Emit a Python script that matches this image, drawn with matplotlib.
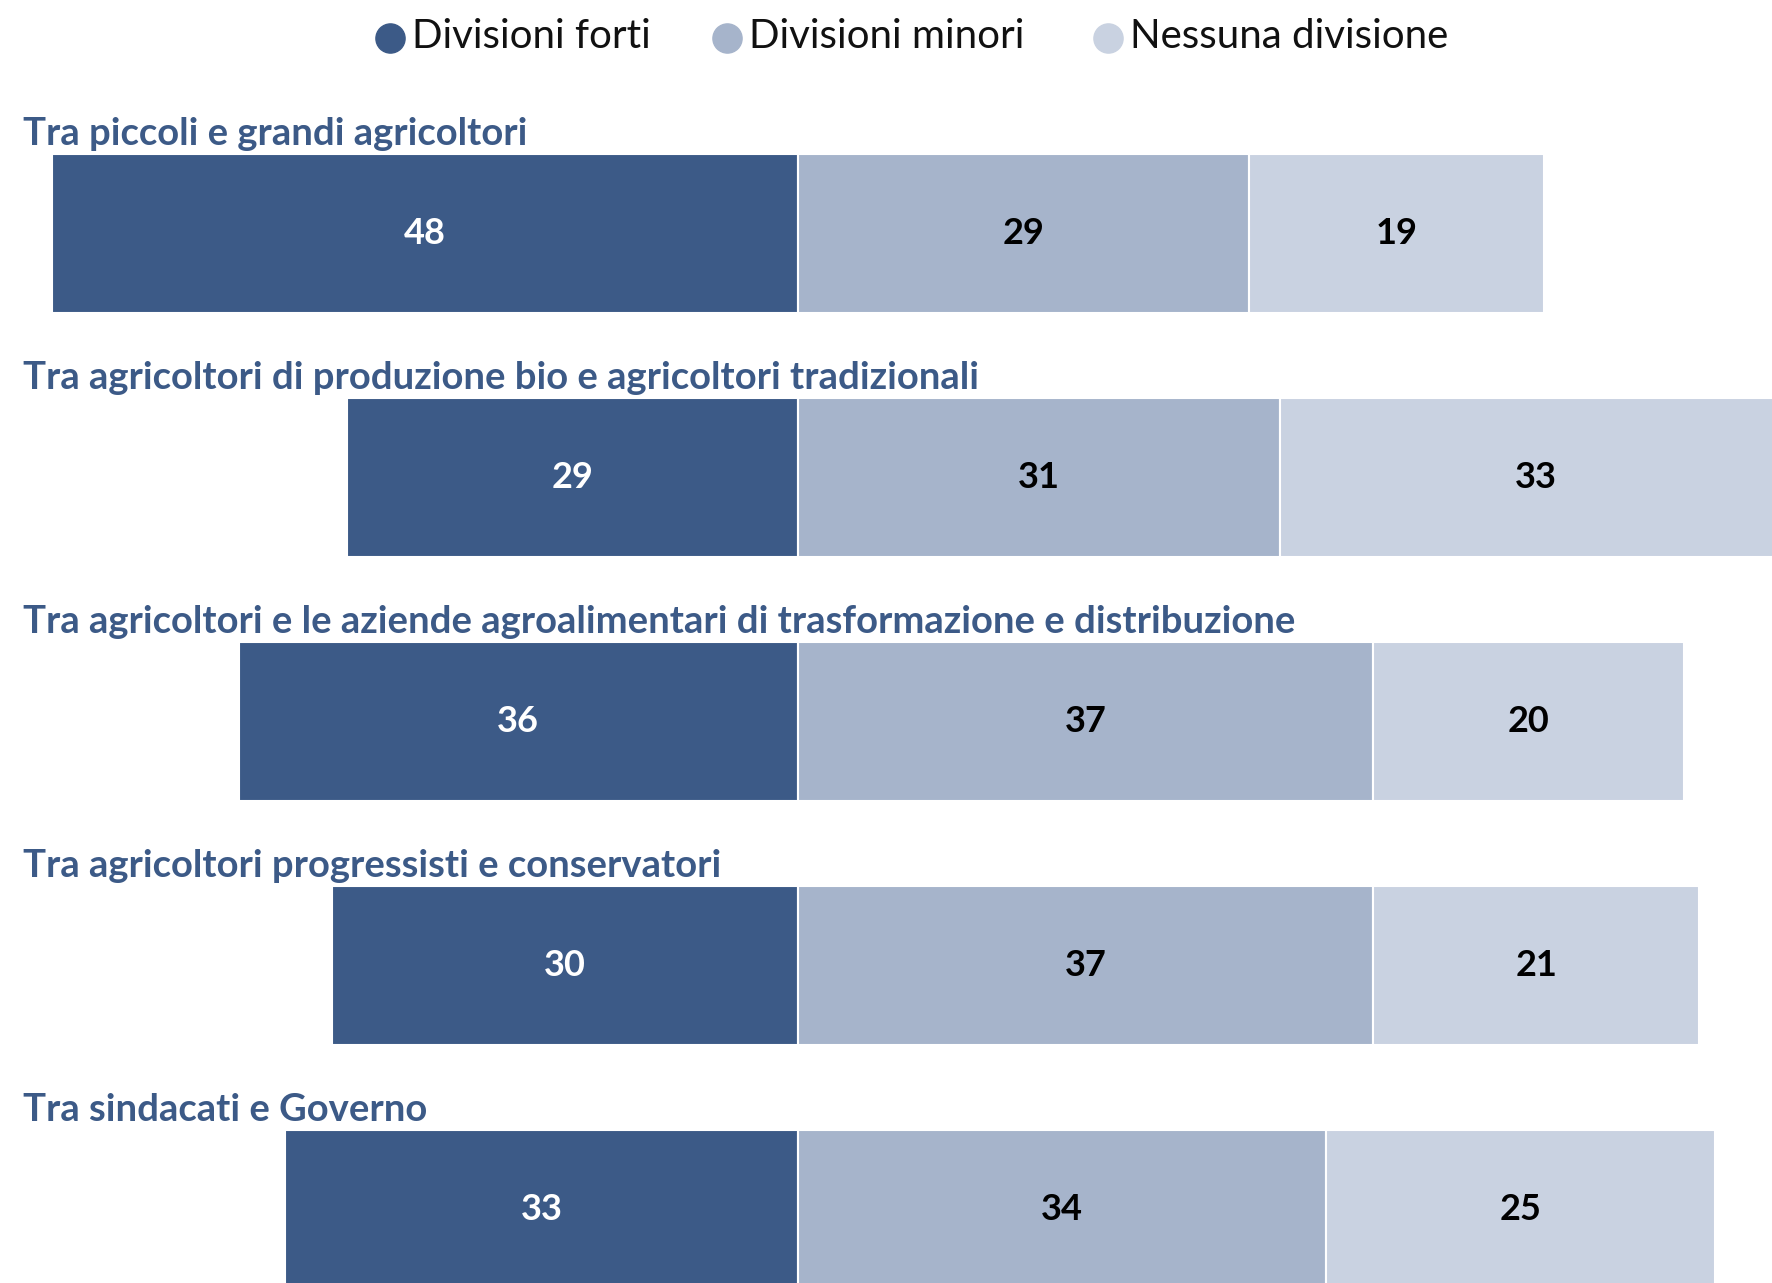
import numpy as np
import matplotlib
matplotlib.use("Agg")
import matplotlib.pyplot as plt

# Dati
categorie = [
    "Tra piccoli e grandi agricoltori",
    "Tra agricoltori di produzione bio e agricoltori tradizionali",
    "Tra agricoltori e le aziende agroalimentari di trasformazione e distribuzione",
    "Tra agricoltori progressisti e conservatori",
    "Tra sindacati e Governo",
]
serie = ["Divisioni forti", "Divisioni minori", "Nessuna divisione"]
forti = [48, 29, 36, 30, 33]
minori = [29, 31, 37, 37, 34]
nessuna = [19, 33, 20, 21, 25]

# Stile
col_forti = "#3c5a87"
col_minori = "#a6b4cb"
col_nessuna = "#c9d2e1"
col_label = "#3c5a87"
plt.rcParams["font.family"] = ["Lato", "DejaVu Sans"]

W, H, DPI = 1772, 1283, 100
fig = plt.figure(figsize=(W / DPI, H / DPI), dpi=DPI)
ax = fig.add_axes([0, 0, 1, 1])

y = np.arange(len(categorie))
h = 0.652
forti_a = np.array(forti)
minori_a = np.array(minori)
nessuna_a = np.array(nessuna)

# barre divergenti: "forti" a sinistra dello zero, il resto a destra
ax.barh(y, -forti_a, height=h, color=col_forti, edgecolor="white", linewidth=1.5)
ax.barh(y, minori_a, height=h, color=col_minori, edgecolor="white", linewidth=1.5)
ax.barh(y, nessuna_a, left=minori_a, height=h, color=col_nessuna,
        edgecolor="white", linewidth=1.5)

# etichette numeriche nei segmenti
for i in range(len(categorie)):
    ax.text(-forti_a[i] / 2, y[i], str(forti_a[i]), ha="center", va="center",
            color="white", fontsize=26, fontweight="bold")
    ax.text(minori_a[i] / 2, y[i], str(minori_a[i]), ha="center", va="center",
            color="black", fontsize=26, fontweight="bold")
    ax.text(minori_a[i] + nessuna_a[i] / 2, y[i], str(nessuna_a[i]), ha="center",
            va="center", color="black", fontsize=26, fontweight="bold")

# titoli delle categorie sopra ogni barra
for i in range(len(categorie)):
    ax.text(23 / W, y[i] - h / 2 - 0.037, categorie[i],
            transform=ax.get_yaxis_transform(), ha="left", va="baseline",
            color=col_label, fontsize=27.5, fontweight="bold")

# scala: zero a 798 px, 15.54 px per unità
scale = 15.54
cx = 798
ax.set_xlim(-cx / scale, (W - cx) / scale)
pitch = 244
c0 = 233.5
ax.set_ylim((H - c0) / pitch, -c0 / pitch)
ax.axis("off")

# legenda
legend_x = [390, 727, 1108]
cols = [col_forti, col_minori, col_nessuna]
for lx, lab, c in zip(legend_x, serie, cols):
    fig.add_artist(plt.Line2D([lx / W], [1 - 38 / H], marker="o", markersize=21,
                              color=c, linestyle="none", transform=fig.transFigure))
    fig.text((lx + 22) / W, 1 - 36 / H, lab, ha="left", va="center",
             fontsize=29, color="#111111")

fig.savefig("out.png", dpi=DPI)
